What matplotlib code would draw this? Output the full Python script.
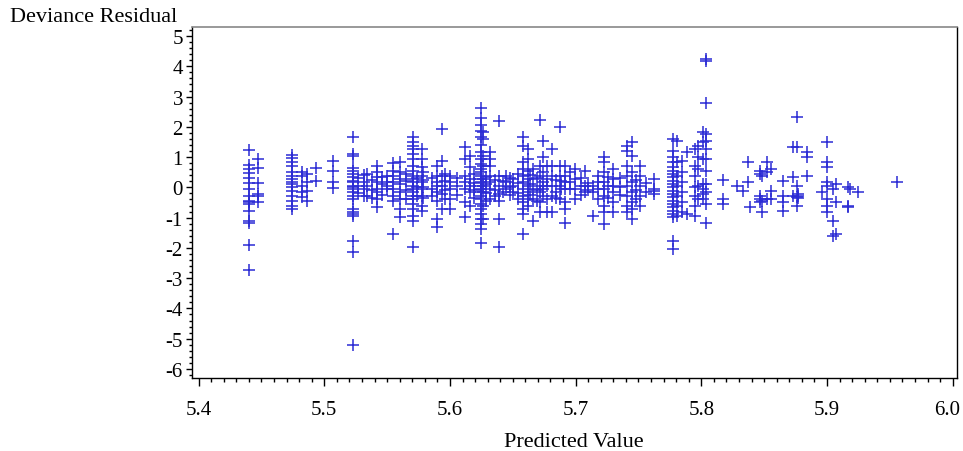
import numpy as np
import matplotlib
matplotlib.use("Agg")
import matplotlib.pyplot as plt
import matplotlib.transforms as mtransforms
from matplotlib.ticker import MultipleLocator, FormatStrFormatter

# Predicted value of each vertical stack of observations
stack_pred = [
    5.4404, 5.4476, 5.4741, 5.4821, 5.4861, 5.4935, 5.5073, 5.5227, 5.5317, 5.5342,
    5.5418, 5.5497, 5.5550, 5.5603, 5.5704, 5.5776, 5.5895, 5.5935, 5.6000, 5.6120,
    5.6160, 5.6245, 5.6266, 5.6320, 5.6393, 5.6450, 5.6505, 5.6584, 5.6624, 5.6664,
    5.6717, 5.6739, 5.6770, 5.6810, 5.6876, 5.6916, 5.6956, 5.6995, 5.7075, 5.7140,
    5.7180, 5.7226, 5.7300, 5.7406, 5.7446, 5.7512, 5.7625, 5.7777, 5.7804, 5.7844,
    5.7884, 5.7950, 5.7976, 5.8016, 5.8040, 5.8175, 5.8280, 5.8334, 5.8370, 5.8388,
    5.8467, 5.8480, 5.8520, 5.8555, 5.8653, 5.8727, 5.8732, 5.8764, 5.8770, 5.8838,
    5.8957, 5.8996, 5.9044, 5.9068, 5.9170, 5.9180, 5.9250, 5.9560,
]

# Deviance residuals of the observations in each stack
stack_resid = [
    [1.24, 0.75, 0.61, 0.46, 0.30, 0.13, -0.05, -0.27, -0.44, -0.49, -0.55, -0.77, -1.10, -1.18, -1.89, -2.73],
    [0.94, 0.63, 0.14, -0.22, -0.27, -0.49],
    [1.07, 0.96, 0.83, 0.72, 0.52, 0.39, 0.28, 0.19, 0.11, 0.0, -0.11, -0.27, -0.44, -0.60, -0.71],
    [0.50, 0.39, 0.06, -0.16, -0.33],
    [0.44, 0.17, -0.11, -0.44],
    [0.64, 0.22],
    [0.86, 0.53, 0.17, -0.03],
    [1.66, 1.10, 1.05, 0.63, 0.55, 0.44, 0.33, 0.22, 0.17, 0.06, 0.0, -0.05, -0.16, -0.27, -0.38, -0.71, -0.82, -0.88, -0.93, -1.76, -2.12, -5.21],
    [0.40, 0.17, -0.05, -0.27],
    [0.44, 0.06, -0.27],
    [0.72, 0.50, 0.33, 0.17, -0.05, -0.16, -0.38, -0.66],
    [0.39, 0.17, 0.06, -0.05],
    [0.81, 0.55, 0.39, 0.17, -0.05, -0.27, -0.44, -1.54],
    [0.83, 0.50, 0.28, 0.11, -0.16, -0.38, -0.71, -0.99],
    [1.66, 1.51, 1.38, 1.27, 1.10, 0.94, 0.72, 0.55, 0.39, 0.28, 0.17, 0.06, -0.05, -0.16, -0.27, -0.38, -0.55, -0.71, -0.93, -1.10, -1.98],
    [1.27, 0.94, 0.66, 0.39, 0.17, -0.05, -0.27, -0.60, -0.77],
    [0.72, 0.39, 0.17, 0.06, -0.16, -0.44, -1.04, -1.32],
    [1.93, 0.88, 0.39, 0.06, -0.22, -0.71],
    [0.39, 0.17, -0.05, -0.38, -0.71],
    [1.34, 0.94, 0.39, 0.17, -0.05, -0.49, -0.99],
    [1.05, 0.66, 0.28, 0.06, -0.16, -0.60],
    [2.61, 2.28, 2.06, 1.87, 1.66, 1.40, 1.16, 0.94, 0.77, 0.61, 0.50, 0.39, 0.28, 0.17, 0.06, -0.05, -0.16, -0.27, -0.38, -0.55, -0.71, -0.88, -1.04, -1.21, -1.37, -1.84],
    [1.82, 1.60, 1.05, 0.72, 0.28, 0.06, -0.16, -0.60, -1.04],
    [1.16, 0.94, 0.72, 0.39, 0.17, -0.05, -0.38],
    [2.20, 0.39, 0.06, -0.22, -0.44, -1.04, -1.96],
    [0.39, 0.17, -0.05],
    [0.28, 0.06, -0.16],
    [1.66, 1.38, 0.83, 0.61, 0.39, 0.17, -0.05, -0.27, -0.49, -0.71, -0.88, -1.54],
    [1.27, 0.94, 0.55, 0.28, 0.06, -0.16, -0.38, -0.60],
    [0.61, 0.28, -0.05, -0.38, -1.10],
    [2.23, 0.72, 0.39, 0.06, -0.16, -0.49, -0.82],
    [1.54, 0.99, 0.50, 0.17, -0.05, -0.27],
    [0.72, 0.28, 0.06, -0.38, -0.82],
    [1.27, 0.72, 0.39, 0.06, -0.27, -0.82],
    [1.99, 0.72, 0.39, 0.06, -0.38],
    [0.72, 0.39, 0.17, -0.05, -0.49, -0.71, -1.18],
    [0.50, 0.17, -0.05],
    [0.61, 0.28, -0.05, -0.38],
    [0.55, 0.06, -0.16],
    [0.06, -0.16, -0.93],
    [0.39, 0.17, -0.05, -0.38],
    [0.99, 0.83, 0.50, 0.17, -0.05, -0.27, -0.60, -0.82, -1.21],
    [0.61, 0.28, 0.06, -0.16, -0.49, -0.82],
    [1.38, 1.21, 0.72, 0.39, 0.06, -0.27, -0.60, -0.82],
    [1.49, 1.05, 0.50, 0.17, -0.16, -0.49, -0.71, -1.04],
    [0.72, 0.39, 0.06, -0.27, -0.60],
    [0.28, -0.05, -0.11, -0.22],
    [1.60, 1.21, 0.99, 0.83, 0.66, 0.55, 0.44, 0.33, 0.22, 0.11, 0.0, -0.11, -0.22, -0.33, -0.44, -0.55, -0.66, -0.77, -0.88, -0.99, -1.76, -2.03],
    [1.54, 0.83, 0.39, 0.06, -0.27, -0.60, -0.93],
    [0.88, 0.50, 0.17, -0.16, -0.49, -0.82],
    [1.16, -0.88],
    [1.27, 0.72, 0.39, 0.0, -0.27, -0.60, -0.93],
    [1.38, 0.99, 0.61, 0.06, -0.38],
    [1.82, 1.49, 0.94, 0.11, -0.05, -0.22, -0.38],
    [4.24, 4.19, 2.79, 1.76, 1.54, 1.27, 0.94, 0.55, 0.11, -0.16, -0.55, -1.18],
    [0.24, -0.38, -0.55],
    [0.06],
    [-0.11],
    [0.85, 0.17],
    [-0.66],
    [0.55, 0.44, -0.27, -0.38, -0.49],
    [0.39, -0.44, -0.80],
    [0.83, 0.50, -0.38],
    [0.61, -0.11, -0.38],
    [0.22, -0.27, -0.49, -0.77],
    [0.33, -0.27],
    [1.34],
    [2.32, 1.34, 0.06, -0.33, -0.60],
    [-0.22, -0.30, -0.35],
    [1.16, 0.99, 0.39],
    [-0.16],
    [1.49, 0.83, 0.66, 0.17, 0.06, -0.38, -0.60, -0.82],
    [-0.05, -1.10, -1.60],
    [0.11, -0.49, -1.54],
    [0.0, -0.60, -0.66],
    [-0.05],
    [-0.16],
    [0.19],
]

# Observations in the crowded central band between the main stacks
band_pred = [
    5.5270, 5.5380, 5.5460, 5.5650, 5.5740, 5.5785, 5.5860, 5.5960, 5.6060, 5.6190,
    5.6290, 5.6360, 5.6420, 5.6480, 5.6540, 5.6640, 5.6690, 5.6840, 5.6880, 5.7040,
    5.7100, 5.7260, 5.7350, 5.7480, 5.7560,
]
band_resid = [
    [0.30, 0.05, -0.20], [0.25, -0.10, -0.35], [0.35, 0.10, -0.25],
    [0.45, 0.20, -0.10, -0.40], [0.30, 0.00, -0.30], [0.50, 0.25, 0.00, -0.35],
    [0.30, -0.05, -0.30], [0.45, 0.20, -0.10, -0.40], [0.30, 0.05, -0.25],
    [0.45, 0.15, -0.10, -0.35], [0.35, 0.10, -0.20, -0.45], [0.25, -0.10, -0.30],
    [0.20, -0.15], [0.30, 0.00, -0.25], [0.45, 0.15, -0.20, -0.40],
    [0.40, 0.10, -0.25], [0.30, -0.10, -0.45], [0.25, -0.15, -0.35],
    [0.20, -0.05], [0.30, 0.05, -0.25], [0.15, -0.10],
    [0.35, 0.05, -0.35], [0.30, 0.00, -0.25], [0.25, -0.10, -0.40], [0.15, -0.15],
]

x_major = 0.1
y_major = 1


def expand(levels, groups):
    xs = np.concatenate([np.full(len(g), p) for p, g in zip(levels, groups)])
    ys = np.concatenate([np.asarray(g, dtype=float) for g in groups])
    return xs, ys


px1, ry1 = expand(stack_pred, stack_resid)
px2, ry2 = expand(band_pred, band_resid)
pred = np.concatenate([px1, px2])
resid = np.concatenate([ry1, ry2])

plt.rcParams["font.family"] = ["Liberation Serif", "DejaVu Serif"]
plt.rcParams["axes.unicode_minus"] = False

W, H = 963, 452
fig = plt.figure(figsize=(W / 100, H / 100), dpi=100)
left, right, top, bottom = 192, 957, 28, 379
ax = fig.add_axes([left / W, 1 - bottom / H, (right - left) / W, (bottom - top) / H])

ax.plot(pred, resid, linestyle="none", marker="+", markersize=8,
        markeredgewidth=1.1, color="#2b2bd4")

ax.set_xlim(5.3948, 6.0034)
ax.set_ylim(-6.3, 5.3)

ax.xaxis.set_major_locator(MultipleLocator(x_major))
ax.xaxis.set_minor_locator(MultipleLocator(x_major / 10))
ax.yaxis.set_major_locator(MultipleLocator(y_major))
ax.yaxis.set_minor_locator(MultipleLocator(y_major / 5))
ax.xaxis.set_major_formatter(FormatStrFormatter("%.1f"))
ax.yaxis.set_major_formatter(FormatStrFormatter("%d"))

ax.tick_params(axis="x", which="major", direction="out", length=5.5, width=1.0,
               labelsize=15, pad=10)
ax.tick_params(axis="x", which="minor", direction="out", length=3.2, width=1.0)
ax.tick_params(axis="y", which="major", direction="out", length=4.5, width=1.0,
               labelsize=15, pad=2)
ax.tick_params(axis="y", which="minor", direction="out", length=2.5, width=1.0)

for side in ("left", "bottom", "right"):
    ax.spines[side].set_color("black")
    ax.spines[side].set_linewidth(1.0)
ax.spines["top"].set_color("#888888")
ax.spines["top"].set_linewidth(1.2)

fig.text(10 / W, 1 - 18 / H, "Deviance Residual", ha="left", va="center", fontsize=16)
fig.text(574 / W, 1 - 443 / H, "Predicted Value", ha="center", va="center", fontsize=16)

# keep the last x tick label inside the figure edge
fig.canvas.draw()
nudge = mtransforms.ScaledTranslation(-4 / 72, 0, fig.dpi_scale_trans)
for lab in ax.get_xticklabels():
    if lab.get_text() == "6.0":
        lab.set_transform(lab.get_transform() + nudge)

fig.savefig("out.png", dpi=100)
